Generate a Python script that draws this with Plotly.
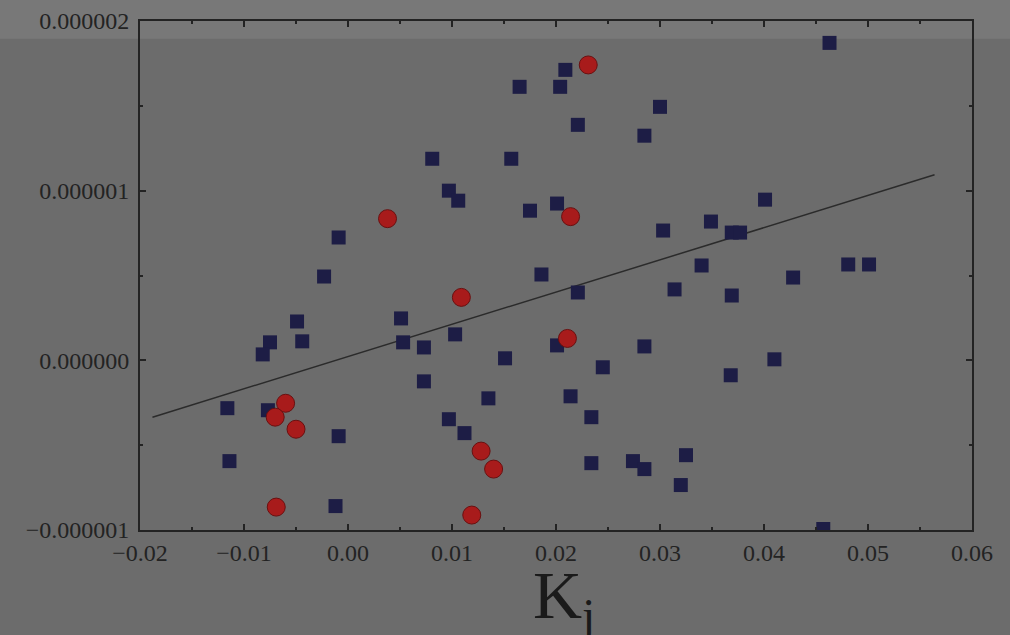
import plotly.graph_objects as go

# Blue squares: (K_j, response)
blue_x = [0.0463, 0.0209, 0.0204, 0.0165, 0.0300, 0.0221, 0.0285, 0.0081, 0.0157,
          0.0097, 0.0106, 0.0201, 0.0175, 0.0401, -0.0009, 0.0303, 0.0349, 0.0369,
          0.0377, -0.0023, 0.0186, 0.0340, 0.0314, 0.0221, 0.0369, 0.0428, 0.0481,
          0.0501, -0.0049, 0.0051, -0.0075, -0.0082, -0.0044, 0.0053, 0.0073,
          0.0103, 0.0151, 0.0201, 0.0285, 0.0245, 0.0410, 0.0368, 0.0073, -0.0116,
          -0.0077, 0.0135, 0.0214, 0.0097, 0.0234, 0.0112, -0.0009, -0.0114,
          0.0234, 0.0274, 0.0285, 0.0325, 0.0320, -0.0012, 0.0457]
blue_y = [1.871e-6, 1.712e-6, 1.612e-6, 1.612e-6, 1.494e-6, 1.388e-6, 1.324e-6,
          1.188e-6, 1.188e-6, 1.000e-6, 0.941e-6, 0.924e-6, 0.882e-6, 0.947e-6,
          0.724e-6, 0.765e-6, 0.818e-6, 0.753e-6, 0.753e-6, 0.494e-6, 0.506e-6,
          0.559e-6, 0.418e-6, 0.400e-6, 0.382e-6, 0.488e-6, 0.565e-6, 0.565e-6,
          0.229e-6, 0.247e-6, 0.106e-6, 0.035e-6, 0.112e-6, 0.106e-6, 0.076e-6,
          0.153e-6, 0.012e-6, 0.088e-6, 0.082e-6, -0.041e-6, 0.006e-6, -0.088e-6,
          -0.124e-6, -0.282e-6, -0.294e-6, -0.224e-6, -0.212e-6, -0.347e-6,
          -0.335e-6, -0.429e-6, -0.447e-6, -0.594e-6, -0.606e-6, -0.594e-6,
          -0.641e-6, -0.559e-6, -0.735e-6, -0.859e-6, -0.994e-6]

# Red circles
red_x = [0.0231, 0.0038, 0.0214, 0.0109, 0.0211, -0.0060, -0.0070, -0.0050,
         0.0128, 0.0140, -0.0069, 0.0119]
red_y = [1.741e-6, 0.835e-6, 0.847e-6, 0.371e-6, 0.129e-6, -0.253e-6, -0.335e-6,
         -0.406e-6, -0.535e-6, -0.641e-6, -0.865e-6, -0.912e-6]

# Fitted trend line end points
fit_x = [-0.0188, 0.0564]
fit_y = [-0.335e-6, 1.094e-6]

x_ticks = [-0.02, -0.01, 0.00, 0.01, 0.02, 0.03, 0.04, 0.05, 0.06]
y_ticks = [-1e-6, 0.0, 1e-6, 2e-6]

bg = "#6c6c6c"
ink = "#232323"
serif = "Liberation Serif, Times New Roman, serif"

fig = go.Figure()
fig.add_trace(go.Scatter(x=fit_x, y=fit_y, mode="lines",
                         line=dict(color="#2b2b2b", width=1.5),
                         showlegend=False, hoverinfo="skip"))
fig.add_trace(go.Scatter(x=blue_x, y=blue_y, mode="markers",
                         marker=dict(symbol="square", size=14, color="#1d1d45",
                                     line=dict(width=0)),
                         showlegend=False))
fig.add_trace(go.Scatter(x=red_x, y=red_y, mode="markers",
                         marker=dict(symbol="circle", size=18, color="#a81b1b",
                                     line=dict(width=1, color="#6a1010")),
                         showlegend=False))

axis_common = dict(
    showgrid=False, zeroline=False, showline=True, linecolor=ink, linewidth=2,
    mirror="ticks", ticks="inside", tickcolor=ink, tickwidth=1.5, ticklen=6,
    tickfont=dict(family=serif, size=24, color=ink), automargin=False,
)

fig.update_xaxes(range=[-0.02, 0.06], tickvals=x_ticks, tickformat=".2f",
                 minor=dict(dtick=0.005, ticks="inside", ticklen=3,
                            tickcolor=ink, tickwidth=1.5),
                 **axis_common)
fig.update_yaxes(range=[-1e-6, 2e-6], tickvals=y_ticks, tickformat=".6f",
                 ticklabelstandoff=4,
                 minor=dict(dtick=0.5e-6, ticks="inside", ticklen=3,
                            tickcolor=ink, tickwidth=1.5),
                 **axis_common)

# x-axis title placed below the tick labels
fig.add_annotation(text="K<sub>j</sub>", xref="paper", yref="paper",
                   x=0.51, y=-0.05, xanchor="center", yanchor="top",
                   showarrow=False,
                   font=dict(family=serif, size=68, color="#1a1a1a"))

# Lighter band across the top edge
fig.add_shape(type="rect", xref="paper", yref="paper", x0=-0.2, x1=1.1,
              y0=0.965, y1=1.1, fillcolor="#787878", line=dict(width=0),
              layer="below")

fig.update_layout(
    width=1010, height=635,
    margin=dict(l=140, r=38, t=21, b=105),
    paper_bgcolor=bg, plot_bgcolor="rgba(0,0,0,0)",
)

fig.write_html("out.html")
